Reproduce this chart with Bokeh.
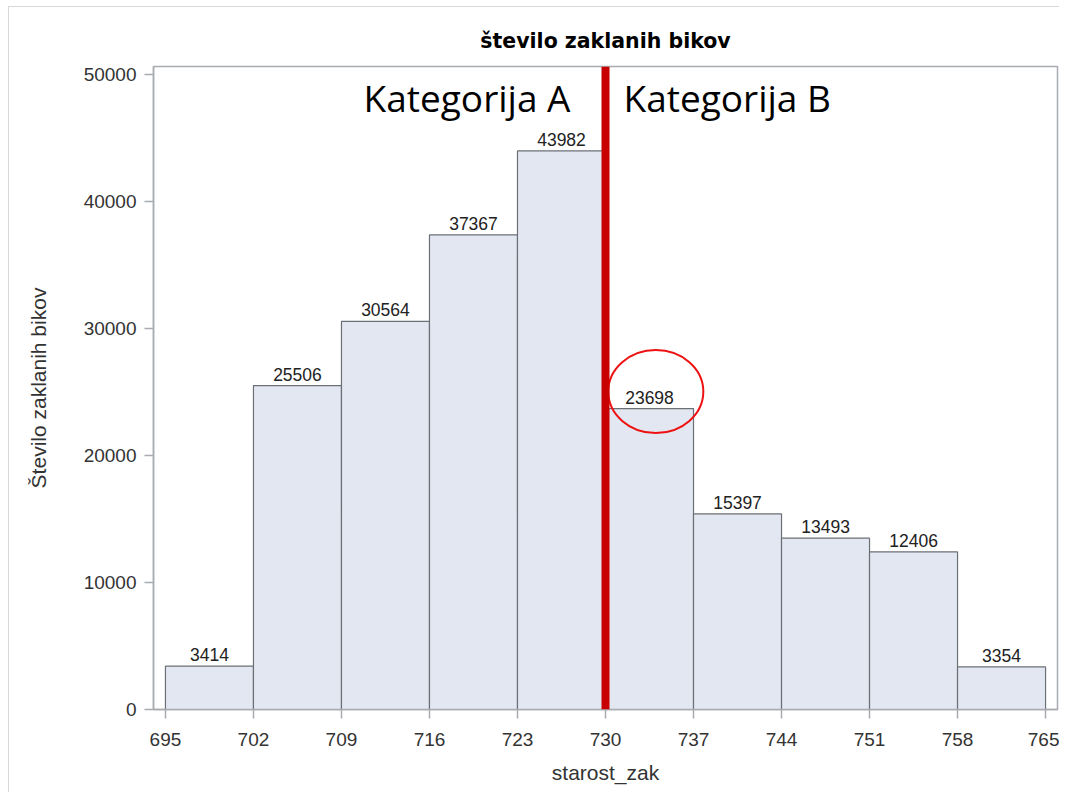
from bokeh.plotting import figure
from bokeh.models import Range1d, FixedTicker, Label, Span, ColumnDataSource
from bokeh.embed import file_html
from bokeh.resources import INLINE
from bokeh.core.properties import value

# ---- data ----
bin_edges = [695, 702, 709, 716, 723, 730, 737, 744, 751, 758, 765]
counts = [3414, 25506, 30564, 37367, 43982, 23698, 15397, 13493, 12406, 3354]
x_ticks = [695, 702, 709, 716, 723, 730, 737, 744, 751, 758, 765]
y_ticks = [0, 10000, 20000, 30000, 40000, 50000]
split_at = 730
cat_labels = ["Kategorija A", "Kategorija B"]
highlight_bin = 5

title = "število zaklanih bikov"
x_label = "starost_zak"
y_label = "Število zaklanih bikov"

lefts = bin_edges[:-1]
rights = bin_edges[1:]
centers = [(a + b) / 2 for a, b in zip(lefts, rights)]

src = ColumnDataSource(dict(left=lefts, right=rights, top=counts,
                            center=centers, label=[str(c) for c in counts]))

p = figure(width=1051, height=786, output_backend="svg", toolbar_location=None,
           x_range=Range1d(694.05, 765.95), y_range=Range1d(0, 50630),
           min_border_left=144, min_border_right=3, min_border_top=59,
           min_border_bottom=84, title=title)

p.title.text_font = "DejaVu Sans"
p.title.text_font_style = "bold"
p.title.text_font_size = "20.5px"
p.title.align = "center"
p.title.vertical_align = "top"
p.title.text_color = "#000000"
p.title.standoff = 23

p.quad(left="left", right="right", bottom=0, top="top", source=src,
       fill_color="#e3e7f1", line_color="#6b7077", line_width=1.2)

p.text(x="center", y="top", text="label", source=src, y_offset=-5,
       text_align="center", text_baseline="bottom",
       text_font=value("Liberation Sans"), text_font_size="17.5px",
       text_color="#222222")

p.add_layout(Span(location=split_at, dimension="height", line_color="#c80000",
                  line_width=8))

p.add_layout(Label(x=split_at, y=48200, x_offset=-35, text=cat_labels[0],
                   text_align="right", text_baseline="alphabetic",
                   text_font="Open Sans", text_font_size="37px", text_color="#000000"))
p.add_layout(Label(x=split_at, y=48200, x_offset=18, text=cat_labels[1],
                   text_align="left", text_baseline="alphabetic",
                   text_font="Open Sans", text_font_size="37px", text_color="#000000"))

p.ellipse(x=[centers[highlight_bin] + 0.5], y=[counts[highlight_bin] + 1340],
          width=7.56, height=6546, fill_color=None, line_color="#ee1111",
          line_width=2)

p.xgrid.visible = False
p.ygrid.visible = False
p.outline_line_color = "#a8acb0"
p.outline_line_width = 1.5

for ax in (p.xaxis[0], p.yaxis[0]):
    ax.axis_line_color = "#a8acb0"
    ax.axis_line_width = 1.5
    ax.major_tick_line_color = "#a8acb0"
    ax.major_tick_line_width = 1.5
    ax.major_tick_out = 9
    ax.major_tick_in = 0
    ax.minor_tick_line_color = None
    ax.major_label_text_font = "Liberation Sans"
    ax.major_label_text_font_size = "19px"
    ax.major_label_text_color = "#333333"
    ax.axis_label_text_font = "Liberation Sans"
    ax.axis_label_text_font_size = "21px"
    ax.axis_label_text_font_style = "normal"
    ax.axis_label_text_color = "#333333"

p.xaxis.ticker = FixedTicker(ticks=x_ticks)
p.yaxis.ticker = FixedTicker(ticks=y_ticks)
p.xaxis.axis_label = x_label
p.yaxis.axis_label = y_label
p.xaxis.major_label_standoff = 14
p.yaxis.major_label_standoff = 8
p.xaxis.axis_label_standoff = 12
p.yaxis.axis_label_standoff = 31

p.styles = {"margin-left": "8px", "margin-top": "6px",
            "border-top": "1px solid #d8d8d8", "border-left": "1px solid #d8d8d8"}

open("out.html", "w").write(file_html(p, INLINE))
